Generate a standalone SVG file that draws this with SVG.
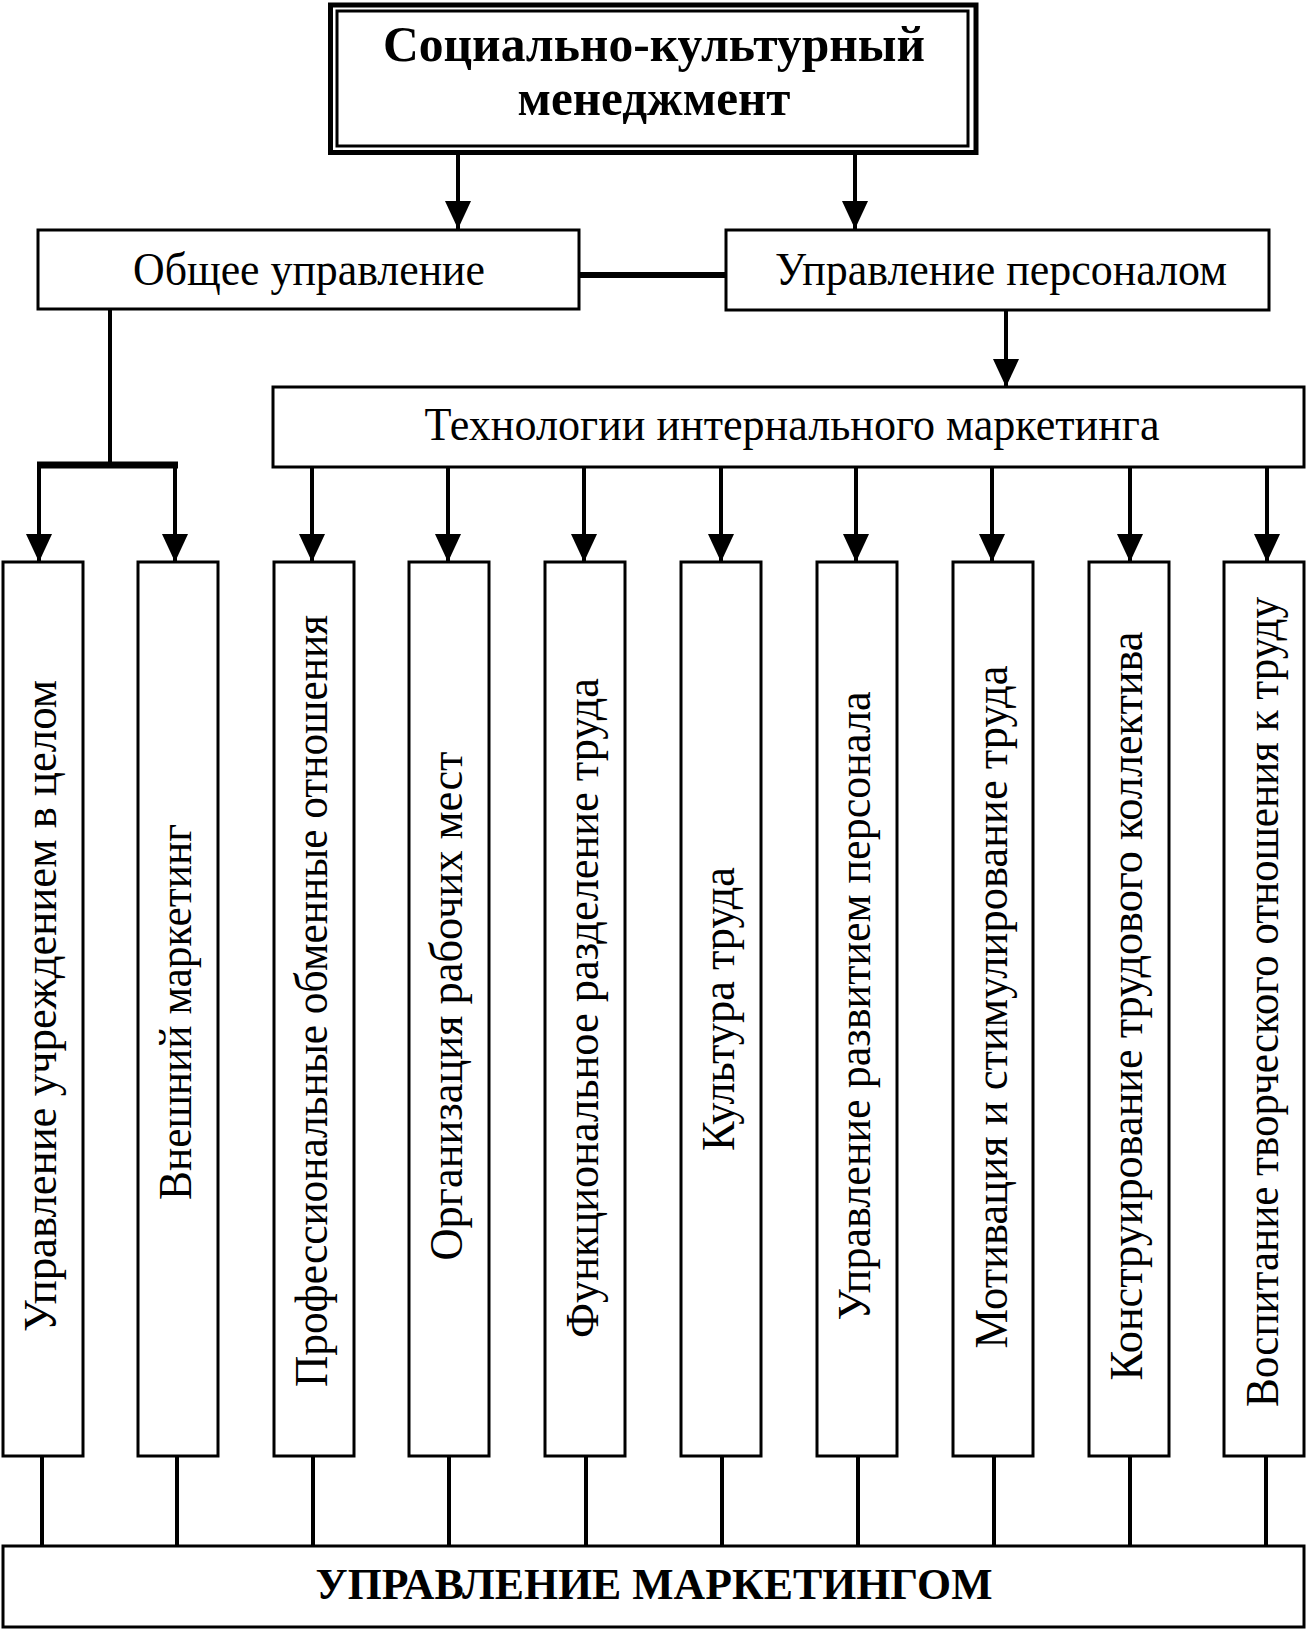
<svg xmlns="http://www.w3.org/2000/svg" width="1307" height="1629" viewBox="0 0 1307 1629">
<style>
.box{fill:#fff;stroke:#000;stroke-width:3}
.t{font-family:"Liberation Serif","Times New Roman",serif;fill:#000}
.n{font-size:47px;text-anchor:middle}
.b{font-size:50px;font-weight:bold;text-anchor:middle}
.v{font-size:47px;text-anchor:middle}
.ln{stroke:#000;stroke-width:4;fill:none}
.arr{stroke:#000;stroke-width:4;fill:none;marker-end:url(#ah)}
</style>
<defs>
<marker id="ah" markerUnits="userSpaceOnUse" markerWidth="28" markerHeight="26" refX="28" refY="13" orient="auto">
<path d="M0,0 L28,13 L0,26 z" fill="#000"/>
</marker>
</defs>
<g id="connectors">
<line class="arr" x1="458" y1="155" x2="458" y2="229"/>
<line class="arr" x1="855" y1="155" x2="855" y2="229"/>
<line class="ln" x1="580" y1="275" x2="725" y2="275" style="stroke-width:6"/>
<line class="arr" x1="1006" y1="310" x2="1006" y2="387"/>
<polyline class="ln" points="110,309 110,465"/>
<line class="ln" x1="37" y1="465" x2="178" y2="465" style="stroke-width:7"/>
<line class="arr" x1="39" y1="465" x2="39" y2="562"/>
<line class="arr" x1="175" y1="465" x2="175" y2="562"/>
<line class="arr" x1="312" y1="467" x2="312" y2="562"/>
<line class="arr" x1="448" y1="467" x2="448" y2="562"/>
<line class="arr" x1="584" y1="467" x2="584" y2="562"/>
<line class="arr" x1="721" y1="467" x2="721" y2="562"/>
<line class="arr" x1="856" y1="467" x2="856" y2="562"/>
<line class="arr" x1="992" y1="467" x2="992" y2="562"/>
<line class="arr" x1="1130" y1="467" x2="1130" y2="562"/>
<line class="arr" x1="1267" y1="467" x2="1267" y2="562"/>
<line class="ln" x1="42" y1="1456" x2="42" y2="1546"/>
<line class="ln" x1="177" y1="1456" x2="177" y2="1546"/>
<line class="ln" x1="313" y1="1456" x2="313" y2="1546"/>
<line class="ln" x1="449" y1="1456" x2="449" y2="1546"/>
<line class="ln" x1="586" y1="1456" x2="586" y2="1546"/>
<line class="ln" x1="722" y1="1456" x2="722" y2="1546"/>
<line class="ln" x1="858" y1="1456" x2="858" y2="1546"/>
<line class="ln" x1="994" y1="1456" x2="994" y2="1546"/>
<line class="ln" x1="1130" y1="1456" x2="1130" y2="1546"/>
<line class="ln" x1="1266" y1="1456" x2="1266" y2="1546"/>
</g>
<g id="title">
<rect x="330.5" y="5" width="645.5" height="147.5" fill="#fff" stroke="#000" stroke-width="5"/>
<rect x="337" y="11" width="631" height="135" fill="none" stroke="#000" stroke-width="3"/>
<text class="t b" x="654" y="61" textLength="542" lengthAdjust="spacingAndGlyphs">Социально-культурный</text>
<text class="t b" x="654" y="115" textLength="273" lengthAdjust="spacingAndGlyphs">менеджмент</text>
</g>
<g id="general">
<rect class="box" x="38" y="230" width="541" height="79"/>
<text class="t n" x="309" y="285" textLength="352" lengthAdjust="spacingAndGlyphs">Общее управление</text>
</g>
<g id="personnel">
<rect class="box" x="726" y="230" width="543" height="80"/>
<text class="t n" x="1001" y="285" textLength="452" lengthAdjust="spacingAndGlyphs">Управление персоналом</text>
</g>
<g id="tech">
<rect class="box" x="273" y="387" width="1031" height="80"/>
<text class="t n" x="792" y="440" textLength="735" lengthAdjust="spacingAndGlyphs">Технологии интернального маркетинга</text>
</g>
<g id="b1"><rect class="box" x="3" y="562" width="80" height="894"/>
<text class="t v" transform="translate(56,1006) rotate(-90)" textLength="652" lengthAdjust="spacingAndGlyphs">Управление учреждением в целом</text></g>
<g id="b2"><rect class="box" x="138" y="562" width="80" height="894"/>
<text class="t v" transform="translate(191,1012) rotate(-90)" textLength="376" lengthAdjust="spacingAndGlyphs">Внешний маркетинг</text></g>
<g id="b3"><rect class="box" x="274" y="562" width="80" height="894"/>
<text class="t v" transform="translate(327,1001) rotate(-90)" textLength="772" lengthAdjust="spacingAndGlyphs">Профессиональные обменные отношения</text></g>
<g id="b4"><rect class="box" x="409" y="562" width="80" height="894"/>
<text class="t v" transform="translate(462,1006) rotate(-90)" textLength="509" lengthAdjust="spacingAndGlyphs">Организация рабочих мест</text></g>
<g id="b5"><rect class="box" x="545" y="562" width="80" height="894"/>
<text class="t v" transform="translate(598,1008) rotate(-90)" textLength="660" lengthAdjust="spacingAndGlyphs">Функциональное разделение труда</text></g>
<g id="b6"><rect class="box" x="681" y="562" width="80" height="894"/>
<text class="t v" transform="translate(734,1009) rotate(-90)" textLength="284" lengthAdjust="spacingAndGlyphs">Культура труда</text></g>
<g id="b7"><rect class="box" x="817" y="562" width="80" height="894"/>
<text class="t v" transform="translate(870,1006) rotate(-90)" textLength="629" lengthAdjust="spacingAndGlyphs">Управление развитием персонала</text></g>
<g id="b8"><rect class="box" x="953" y="562" width="80" height="894"/>
<text class="t v" transform="translate(1007,1007) rotate(-90)" textLength="683" lengthAdjust="spacingAndGlyphs">Мотивация и стимулирование труда</text></g>
<g id="b9"><rect class="box" x="1089" y="562" width="80" height="894"/>
<text class="t v" transform="translate(1142,1006) rotate(-90)" textLength="749" lengthAdjust="spacingAndGlyphs">Конструирование трудового коллектива</text></g>
<g id="b10"><rect class="box" x="1224" y="562" width="80" height="894"/>
<text class="t v" transform="translate(1278,1002) rotate(-90)" textLength="810" lengthAdjust="spacingAndGlyphs">Воспитание творческого отношения к труду</text></g>
<g id="marketing">
<rect class="box" x="3" y="1546" width="1301" height="81"/>
<text class="t" x="654" y="1599" style="font-size:44px;font-weight:bold;text-anchor:middle" textLength="677" lengthAdjust="spacingAndGlyphs">УПРАВЛЕНИЕ МАРКЕТИНГОМ</text>
</g>
</svg>
